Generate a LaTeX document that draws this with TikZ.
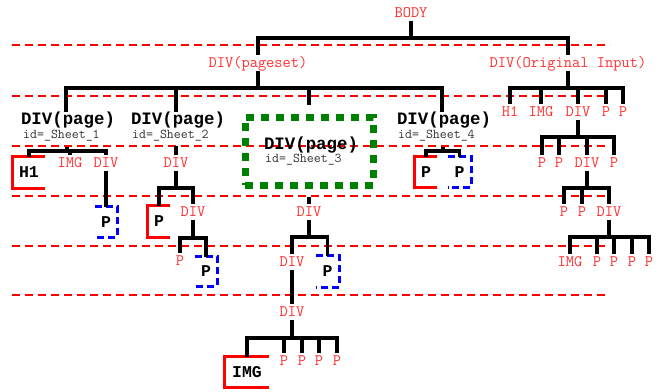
\documentclass[tikz,border=0pt]{standalone}
\usepackage{fontspec}
\newfontfamily\boldmono{Liberation Mono}
\usetikzlibrary{positioning}
\definecolor{tagred}{RGB}{255,48,48}
\definecolor{sheetgreen}{RGB}{0,128,0}
\begin{document}
\begin{tikzpicture}[x=1pt, y=-1pt,
  tagtxt/.style={font=\ttfamily\fontsize{16}{16}\selectfont, text=tagred, inner sep=3pt, text height=9.5pt, text depth=0pt},
  pagetxt/.style={font=\boldmono\bfseries\fontsize{17.4}{17.4}\selectfont, inner sep=1pt, text height=11pt, text depth=0pt},
  idtxt/.style={font=\ttfamily\fontsize{13.5}{13.5}\selectfont, text=black!80, anchor=west, inner sep=0pt, text height=8pt, text depth=0pt},
  boxtxt/.style={font=\boldmono\bfseries\fontsize{16.5}{16.5}\selectfont, inner sep=0pt},
  tree/.style={draw=black, line width=3.2pt},
  guide/.style={draw=red, line width=1.5pt, dash pattern=on 8pt off 5pt},
  redbr/.style={draw=red, line width=3pt},
  bluebr/.style={draw=blue, line width=3pt, dash pattern=on 7pt off 4pt},
  sheetbox/.style={draw=sheetgreen, line width=7pt, dash pattern=on 8pt off 7pt, minimum width=128pt, minimum height=68pt}
]
  \useasboundingbox (0,0) rectangle (660,391);

  % level guides
  \foreach \y/\xe in {45/610, 96/610, 146/610, 196/610, 246/610, 295/605}
    \draw[guide] (12,\y) -- (\xe,\y);

  % body and its two children
  \node[tagtxt] (body) at (411,13) {BODY};
  \node[tagtxt] (pset) at (258,63) {DIV(pageset)};
  \node[tagtxt] (orig) at (568,63) {DIV(Original Input)};

  % pages
  \node[pagetxt] (pg1) at (68,119) {DIV(page)};
  \node[idtxt] (id1) at (23,134) {id=\_Sheet\_1};
  \node[pagetxt] (pg2) at (178,119) {DIV(page)};
  \node[idtxt] (id2) at (132,134) {id=\_Sheet\_2};
  \node[sheetbox] (pg3box) at (309,151) {};
  \node[pagetxt] (pg3) at (311,143.5) {DIV(page)};
  \node[idtxt] (id3) at (265,158) {id=\_Sheet\_3};
  \node[pagetxt] (pg4) at (444,119) {DIV(page)};
  \node[idtxt] (id4) at (398,134) {id=\_Sheet\_4};

  % original input children
  \node[tagtxt] (o1) at (510,112) {H1};
  \node[tagtxt] (o2) at (541,112) {IMG};
  \node[tagtxt] (o3) at (578,112) {DIV};
  \node[tagtxt] (o4) at (606,112) {P};
  \node[tagtxt] (o5) at (623,112) {P};
  \node[tagtxt] (ora) at (542,163) {P};
  \node[tagtxt] (orb) at (559,163) {P};
  \node[tagtxt] (orc) at (587,163) {DIV};
  \node[tagtxt] (ord) at (614,163) {P};
  \node[tagtxt] (oca) at (564,212) {P};
  \node[tagtxt] (ocb) at (582,212) {P};
  \node[tagtxt] (occ) at (609,212) {DIV};
  \node[tagtxt] (oea) at (570,262) {IMG};
  \node[tagtxt] (oeb) at (597,262) {P};
  \node[tagtxt] (oec) at (614,262) {P};
  \node[tagtxt] (oed) at (632,262) {P};
  \node[tagtxt] (oee) at (649,262) {P};

  % sheet 1
  \node[boxtxt, minimum width=32pt, minimum height=31pt] (s1h1) at (29,172.5) {H1};
  \node[tagtxt] (s1img) at (70,163) {IMG};
  \node[tagtxt] (s1div) at (106,163) {DIV};
  \node[boxtxt, minimum width=22pt, minimum height=30pt] (s1p) at (106,222) {P};

  % sheet 2
  \node[tagtxt] (s2div) at (176,163) {DIV};
  \node[boxtxt, minimum width=22pt, minimum height=31pt] (s2p) at (159,221.5) {P};
  \node[tagtxt] (s2div2) at (193,212) {DIV};
  \node[tagtxt] (s2p2) at (180,261) {P};
  \node[boxtxt, minimum width=22pt, minimum height=29pt] (s2p3) at (206,271.5) {P};

  % sheet 3
  \node[tagtxt] (s3div) at (309,212) {DIV};
  \node[tagtxt] (s3div2) at (292,262) {DIV};
  \node[boxtxt, minimum width=23pt, minimum height=31pt] (s3p) at (327.5,271.5) {P};
  \node[tagtxt] (s3div3) at (292,312) {DIV};
  \node[boxtxt, minimum width=44pt, minimum height=30pt] (s3img) at (247,372) {IMG};
  \node[tagtxt] (s3pa) at (284,361) {P};
  \node[tagtxt] (s3pb) at (302,361) {P};
  \node[tagtxt] (s3pc) at (319,361) {P};
  \node[tagtxt] (s3pd) at (337,361) {P};

  % sheet 4
  \node[boxtxt, minimum width=22pt, minimum height=30pt] (s4pa) at (426,172) {P};
  \node[boxtxt, minimum width=23pt, minimum height=30pt] (s4pb) at (459.5,172) {P};

  % brackets
  \foreach \b in {s1h1, s2p, s3img, s4pa}
    \draw[redbr] (\b.north east) -| (\b.south west) -- (\b.south east);
  \foreach \b in {s1p, s2p3, s3p, s4pb}
    \draw[bluebr] (\b.north west) -| (\b.south east) -- (\b.south west);

  % tree connectors
  \coordinate (bodyBar) at (411,38);
  \draw[tree] (body) -- (bodyBar);
  \foreach \c in {pset, orig} \draw[tree] (bodyBar) -| (\c.north);

  \coordinate (psetBar) at (258,88);
  \draw[tree] (pset) -- (psetBar);
  \foreach \c in {pg1, pg2, pg4} \draw[tree] (psetBar) -| ([xshift=-2pt]\c.north);
  \draw[tree, shorten >=9pt] (psetBar) -| (pg3box.north);

  \coordinate (origBar) at (568,88);
  \draw[tree] (orig) -- (origBar);
  \foreach \c in {o1, o2, o3, o4, o5} \draw[tree] (origBar) -| (\c.north);

  \coordinate (pg1Bar) at (67,151);
  \draw[tree] (pg1Bar |- id1.south) ++(0,9) -- (pg1Bar);
  \foreach \c in {s1h1, s1img, s1div} \draw[tree] (pg1Bar) -| (\c.north);
  \draw[tree] (s1div) -- (s1p.north);

  \draw[tree] (s2div.north |- id2.south) ++(0,8) -- (s2div.north);
  \coordinate (s2Bar) at (176,188);
  \draw[tree] (s2div) -- (s2Bar);
  \foreach \c in {s2p, s2div2} \draw[tree] (s2Bar) -| (\c.north);
  \coordinate (s2dBar) at (193,238);
  \draw[tree] (s2div2) -- (s2dBar);
  \foreach \c in {s2p2, s2p3} \draw[tree] (s2dBar) -| (\c.north);

  \draw[tree, shorten <=8pt] (pg3box.south) -- (s3div.north);
  \coordinate (s3Bar) at (309,237);
  \draw[tree] (s3div) -- (s3Bar);
  \foreach \c in {s3div2, s3p} \draw[tree] (s3Bar) -| (\c.north);
  \draw[tree] (s3div2) -- (s3div3);
  \coordinate (s3dBar) at (292,338);
  \draw[tree] (s3div3) -- (s3dBar);
  \foreach \c in {s3img, s3pa, s3pb, s3pc, s3pd} \draw[tree] (s3dBar) -| (\c.north);

  \coordinate (pg4Bar) at (443,151);
  \draw[tree] (pg4Bar |- id4.south) ++(0,9) -- (pg4Bar);
  \foreach \c in {s4pa, s4pb} \draw[tree] (pg4Bar) -| (\c.north);

  \coordinate (o3Bar) at (578,137);
  \draw[tree] (o3) -- (o3Bar);
  \foreach \c in {ora, orb, orc, ord} \draw[tree] (o3Bar) -| (\c.north);
  \coordinate (orcBar) at (587,188);
  \draw[tree] (orc) -- (orcBar);
  \foreach \c in {oca, ocb, occ} \draw[tree] (orcBar) -| (\c.north);
  \coordinate (occBar) at (609,237);
  \draw[tree] (occ) -- (occBar);
  \foreach \c in {oea, oeb, oec, oed, oee} \draw[tree] (occBar) -| (\c.north);
\end{tikzpicture}
\end{document}
